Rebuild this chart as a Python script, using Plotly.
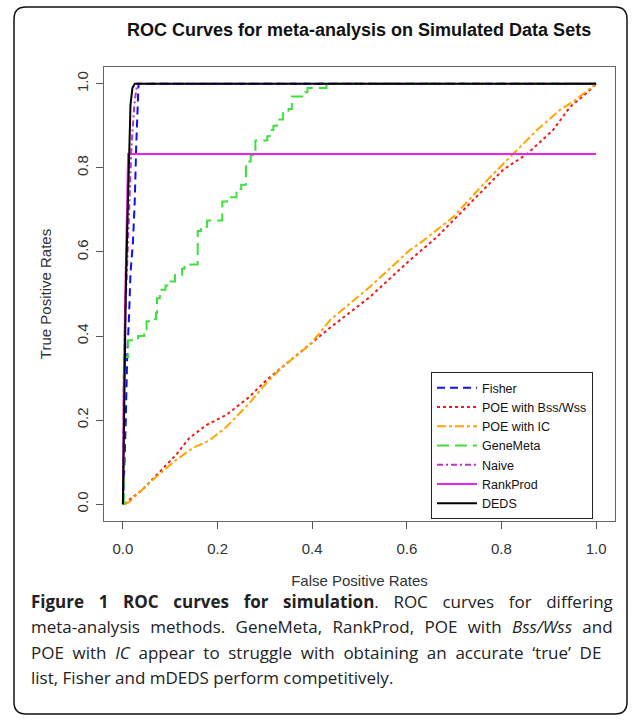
import plotly.graph_objects as go

# ---------------- data ----------------
fisher_fpr = [0, 0.002, 0.004, 0.006, 0.009, 0.013, 0.016, 0.021, 0.025, 0.028, 0.031, 0.033, 1.0]
fisher_tpr = [0, 0.05, 0.12, 0.2, 0.35, 0.45, 0.55, 0.62, 0.72, 0.85, 0.95, 1.0, 1.0]

bss_fpr = [0.004, 0.013, 0.04, 0.076, 0.112, 0.14, 0.176, 0.218, 0.267, 0.303, 0.337, 0.395,
           0.438, 0.522, 0.607, 0.664, 0.734, 0.803, 0.854, 0.909, 0.945, 0.98, 1.0]
bss_tpr = [0, 0.01, 0.033, 0.076, 0.117, 0.157, 0.188, 0.212, 0.255, 0.295, 0.326, 0.379,
           0.42, 0.493, 0.581, 0.636, 0.717, 0.795, 0.833, 0.89, 0.945, 0.978, 1.0]

ic_fpr = [0.004, 0.013, 0.055, 0.112, 0.147, 0.183, 0.218, 0.267, 0.303, 0.337, 0.395, 0.438,
          0.522, 0.607, 0.628, 0.698, 0.77, 0.825, 0.875, 0.924, 0.951, 1.0]
ic_tpr = [0, 0.005, 0.05, 0.105, 0.133, 0.152, 0.183, 0.24, 0.288, 0.326, 0.379, 0.438,
          0.517, 0.605, 0.621, 0.683, 0.771, 0.833, 0.89, 0.938, 0.957, 1.0]

genemeta_fpr = [0, 0.002, 0.011, 0.032, 0.045, 0.05, 0.06, 0.07, 0.072, 0.078, 0.09, 0.1, 0.11,
                0.125, 0.13, 0.158, 0.165, 0.178, 0.21, 0.22, 0.24, 0.25, 0.26, 0.27, 0.28,
                0.305, 0.31, 0.318, 0.326, 0.338, 0.35, 0.357, 0.385, 0.39, 0.43, 1.0]
genemeta_tpr = [0, 0.35, 0.39, 0.40, 0.415, 0.435, 0.44, 0.455, 0.49, 0.51, 0.52, 0.53, 0.545,
                0.56, 0.57, 0.65, 0.66, 0.675, 0.72, 0.73, 0.75, 0.76, 0.815, 0.83, 0.865,
                0.875, 0.89, 0.90, 0.915, 0.93, 0.94, 0.97, 0.98, 0.99, 1.0, 1.0]

naive_fpr = [0, 0.002, 0.005, 0.008, 0.012, 0.018, 0.024, 0.03, 1.0]
naive_tpr = [0, 0.3, 0.45, 0.55, 0.7, 0.85, 0.95, 1.0, 1.0]

rank_fpr = [0, 0.002, 0.005, 0.008, 0.011, 1.0]
rank_tpr = [0, 0.3, 0.5, 0.7, 0.833, 0.833]

deds_fpr = [0, 0.002, 0.004, 0.006, 0.009, 0.013, 0.016, 0.02, 0.025, 1.0]
deds_tpr = [0, 0.2, 0.35, 0.5, 0.65, 0.83, 0.95, 0.99, 1.0, 1.0]

tick_vals = [0.0, 0.2, 0.4, 0.6, 0.8, 1.0]
tick_text = ["0.0", "0.2", "0.4", "0.6", "0.8", "1.0"]

caption_lines = [
    ["<b>Figure", "1", "ROC", "curves", "for", "simulation</b>.", "ROC", "curves", "for", "differing"],
    ["meta-analysis", "methods.", "GeneMeta,", "RankProd,", "POE", "with", "<i>Bss/Wss</i>", "and"],
    ["POE", "with", "<i>IC</i>", "appear", "to", "struggle", "with", "obtaining", "an",
     "accurate", "\u2018true\u2019", "DE"],
    ["list,", "Fisher", "and", "mDEDS", "perform", "competitively."],
]
# extra inter-word spacing used to imitate the justified caption
caption_gaps = [" \u2002\u200a", " \u2005\u200a", " \u2005", " "]

# ---------------- figure ----------------
W, H = 634, 721
L, R, T, B = 104, 19, 67, 200
pw, ph = W - L - R, H - T - B

def px(x):
    return (x - L) / pw

def py(y):
    return (H - B - y) / ph

fig = go.Figure()
series = [
    ("Fisher", fisher_fpr, fisher_tpr, "#1010f0", "8px,5px", "linear"),
    ("POE with Bss/Wss", bss_fpr, bss_tpr, "#ee1c1c", "dot", "linear"),
    ("POE with IC", ic_fpr, ic_tpr, "#ffa500", "dashdot", "linear"),
    ("GeneMeta", genemeta_fpr, genemeta_tpr, "#3ee03e", "12px,6px", "hv"),
    ("Naive", naive_fpr, naive_tpr, "#c030d0", "6px,3px,2px,3px", "linear"),
    ("RankProd", rank_fpr, rank_tpr, "#ee22ee", "solid", "linear"),
    ("DEDS", deds_fpr, deds_tpr, "#000000", "solid", "linear"),
]
for name, x, y, col, dash, shape in series:
    fig.add_trace(go.Scatter(x=x, y=y, name=name, mode="lines",
                             line=dict(color=col, dash=dash, width=2, shape=shape)))

lab_font = dict(family="Liberation Sans, Arial", size=15, color="#333")
axis_common = dict(
    showgrid=False, zeroline=False, showline=True, mirror=True,
    linecolor="#666", linewidth=1, ticks="outside", ticklen=7,
    tickcolor="#555", tickvals=tick_vals, ticktext=tick_text,
    tickfont=lab_font, range=[-0.04, 1.04], automargin=False,
)
fig.update_xaxes(**axis_common, ticklabelstandoff=7,
                 title=dict(text="False Positive Rates", standoff=19, font=lab_font))
fig.update_yaxes(**axis_common, tickangle=-90, ticklabelstandoff=2,
                 title=dict(text="True Positive Rates", standoff=18, font=lab_font))

# rounded outer frame
x0, x1, y0, y1, r = px(14), px(627), py(7), py(714), 12
rx, ry = r / pw, r / ph
path = (f"M {x0+rx},{y0} L {x1-rx},{y0} Q {x1},{y0} {x1},{y0-ry} "
        f"L {x1},{y1+ry} Q {x1},{y1} {x1-rx},{y1} "
        f"L {x0+rx},{y1} Q {x0},{y1} {x0},{y1+ry} "
        f"L {x0},{y0-ry} Q {x0},{y0} {x0+rx},{y0} Z")
fig.add_shape(type="path", path=path, xref="paper", yref="paper",
              line=dict(color="#111", width=1.5), layer="below")

annotations = [dict(text="<b>ROC Curves for meta-analysis on Simulated Data Sets</b>",
                    x=px(359), y=py(30), xref="paper", yref="paper",
                    showarrow=False, xanchor="center", yanchor="middle",
                    font=dict(family="Liberation Sans, Arial", size=18, color="#111"))]
for i, words in enumerate(caption_lines):
    annotations.append(dict(text=caption_gaps[i].join(words), x=px(29), y=py(601 + 25.5 * i),
                            xref="paper", yref="paper", showarrow=False,
                            xanchor="left", yanchor="middle",
                            font=dict(family="Open Sans", size=17, color="#222")))

fig.update_layout(
    width=W, height=H, margin=dict(l=L, r=R, t=T, b=B, autoexpand=False),
    paper_bgcolor="white", plot_bgcolor="white",
    showlegend=True,
    legend=dict(x=px(431), y=py(519), xanchor="left", yanchor="bottom",
                bordercolor="#222", borderwidth=1, bgcolor="white",
                font=dict(family="Liberation Sans, Arial", size=12.5, color="#111"),
                tracegroupgap=0, itemwidth=40),
    annotations=annotations,
)

fig.write_html("out.html", config={"displayModeBar": False},
               post_script="document.body.style.margin='0';")
